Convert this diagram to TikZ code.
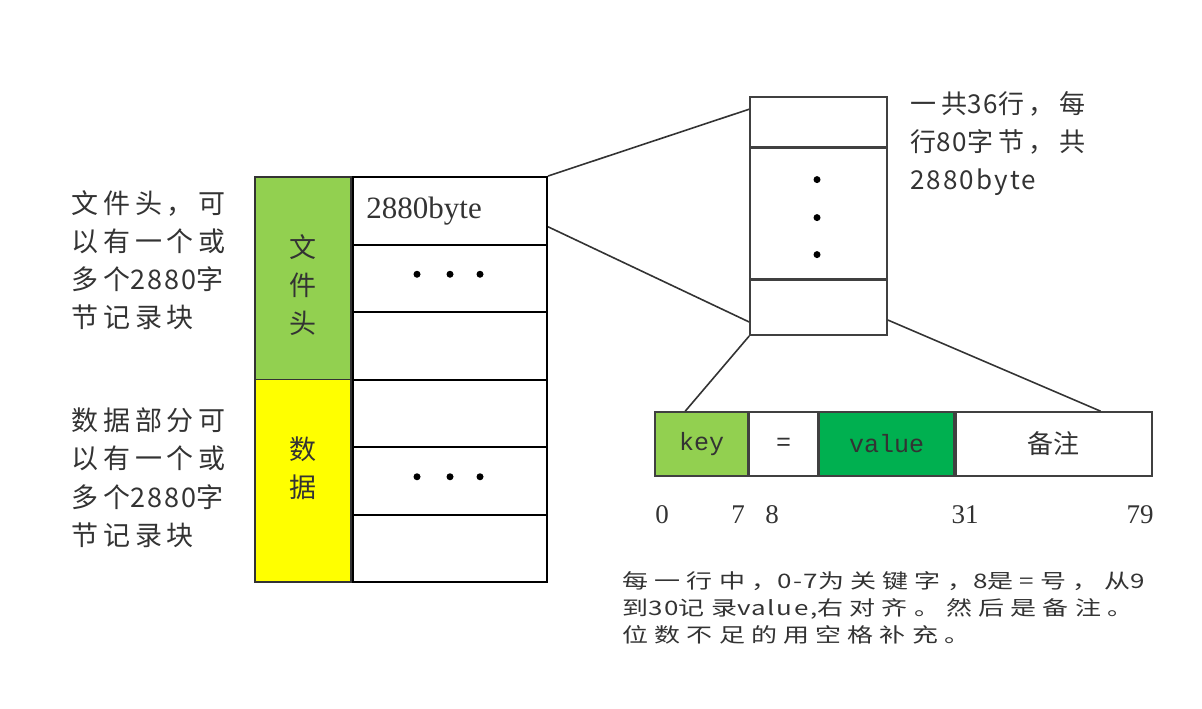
\documentclass[tikz,border=0pt]{standalone}
\usepackage{fontspec}
\setmainfont{Liberation Serif}
\setmonofont{Liberation Mono}
\newfontfamily\cjk[LetterSpace=18]{Noto Sans CJK SC}
\newfontfamily\cjkplain{Noto Sans CJK SC}
\newfontfamily\cjkwide[FakeStretch=1.3,LetterSpace=31]{Noto Sans CJK SC}
\newcommand\tightnum[1]{{\addfontfeature{LetterSpace=8}#1}}
\usepackage{tikz}
\usetikzlibrary{positioning}
\definecolor{headgreen}{HTML}{92D050}
\definecolor{datayellow}{HTML}{FFFF00}
\definecolor{valgreen}{HTML}{00B050}
\definecolor{txtgray}{HTML}{333333}
\tikzstyle{cell} = [rectangle, minimum width=97pt, minimum height=33.75pt, inner sep=0pt, draw=black, line width=1pt]
\tikzstyle{part} = [rectangle, minimum width=48pt, minimum height=101.25pt, inner sep=0pt, draw=black!80, line width=0.8pt]
\tikzstyle{parttext} = [inner sep=0pt, align=center, text=txtgray, font=\cjkplain\fontsize{13.5}{19}\selectfont]
\tikzstyle{zrow} = [rectangle, minimum width=68.5pt, inner sep=0pt, draw=black!75, line width=0.8pt]
\tikzstyle{field} = [rectangle, minimum height=32pt, inner sep=0pt, draw=black!75, line width=0.8pt, text=txtgray, font=\ttfamily\fontsize{12.5}{15}\selectfont]
\tikzstyle{bullet} = [circle, fill=black, inner sep=0pt, minimum size=3.5pt]
\tikzstyle{note} = [anchor=north west, inner sep=0pt, align=left, text=txtgray]
\tikzstyle{idx} = [inner sep=0pt, text=txtgray, font=\fontsize{13.5}{16}\selectfont]
\tikzstyle{link} = [draw=black!80, line width=0.8pt]

\begin{document}
\begin{tikzpicture}[x=0.5pt, y=-0.5pt, node distance=33.75pt]
\useasboundingbox (0,0) rectangle (1202,708);
\node (row1) [cell] at (450,210.75) {};
\node (row2) [cell, below of=row1] {};
\node (row3) [cell, below of=row2] {};
\node (row4) [cell, below of=row3] {};
\node (row5) [cell, below of=row4] {};
\node (row6) [cell, below of=row5] {};
\node (head) [part, fill=headgreen, left=0pt of row2] {};
\node (data) [part, fill=datayellow, left=0pt of row5] {};
\node (headtxt) [parttext] at ([yshift=-3.5pt]head.center) {文\\件\\头};
\node (datatxt) [parttext] at ([yshift=6.5pt]data.center) {数\\据};
\node (bytes) [anchor=west, inner sep=0pt, text=txtgray, font=\fontsize{15.5}{18}\selectfont] at ([xshift=7pt]row1.west) {2880byte};
\foreach \i/\dx in {1/-16.5,2/0,3/15} {
  \node (hd\i) [bullet] at ([xshift=\dx pt, yshift=2pt]row2.center) {};
  \node (dd\i) [bullet] at ([xshift=\dx pt, yshift=2pt]row5.center) {};
}
\node (ztop) [zrow, minimum height=25pt] at (818.5,122) {};
\node (zmid) [zrow, minimum height=65pt, below=0pt of ztop] {};
\node (zbot) [zrow, minimum height=27.5pt, below=0pt of zmid] {};
\foreach \i/\dy in {1/17,2/-2,3/-20.5}
  \node (zd\i) [bullet] at ([xshift=-0.75pt, yshift=\dy pt]zmid.center) {};
\node (rownote) [note, font=\cjk\fontsize{13}{19}\selectfont] at (910,91) {一共\tightnum{36}行，每\\行\tightnum{80}字节，共\\\tightnum{2880byte}};
\node (headnote) [note, font=\cjk\fontsize{13.5}{19}\selectfont] at (71,190) {文件头，可\\以有一个或\\多个\tightnum{2880}字\\节记录块};
\node (datanote) [note, font=\cjk\fontsize{13.5}{19.2}\selectfont] at (71,407) {数据部分可\\以有一个或\\多个\tightnum{2880}字\\节记录块};
\node (keyf) [field, minimum width=46.5pt, fill=headgreen] at (701.5,444) {key};
\node (eqf) [field, minimum width=34pt, right=0pt of keyf] {=};
\node (valf) [field, minimum width=67.5pt, fill=valgreen, right=0pt of eqf] {value};
\node (notef) [field, minimum width=98pt, right=0pt of valf, font=\cjkplain\fontsize{13}{15}\selectfont] {备注};
\foreach \n/\x in {0/662,7/738,8/772,31/965,79/1140}
  \node (pos\n) [idx] at (\x,515) {\n};
\node (rule) [note, font=\cjkwide\fontsize{10}{13.5}\selectfont] at (622,571) {每一行中，\tightnum{0-7}为关键字，\tightnum{8}是=号，从\tightnum{9}\\到\tightnum{30}记录\tightnum{value,}右对齐。然后是备注。\\位数不足的用空格补充。};
\draw [link] (row1.north east) -- ([yshift=-6.5pt]ztop.north west);
\draw [link] ([yshift=-8pt]row1.east) -- ([yshift=7pt]zbot.south west);
\draw [link] (zbot.south west) -- ([xshift=15.5pt]keyf.north west);
\draw [link] ([yshift=8pt]zbot.south east) -- ([xshift=-26pt]notef.north east);
\end{tikzpicture}
\end{document}
